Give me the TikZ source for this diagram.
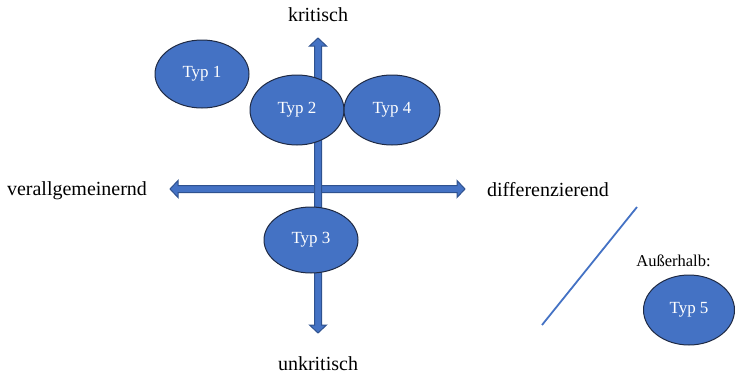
\documentclass[tikz,border=0pt]{standalone}
\usepackage{fontspec}
\setmainfont{Liberation Serif}
\usetikzlibrary{shapes.geometric}
\definecolor{fillblue}{HTML}{4472C4}
\definecolor{edgeblue}{HTML}{2F528F}
\definecolor{darkedge}{HTML}{1F2A44}
\tikzset{
  typ/.style={ellipse, draw=darkedge, line width=1pt, fill=fillblue, text=white,
    minimum width=#1, font=\fontsize{17}{20}\selectfont, inner sep=0pt},
  axisarrow/.style={draw=edgeblue, fill=fillblue, line width=1pt, line join=miter},
  axlabel/.style={font=\fontsize{20}{24}\selectfont, inner sep=0pt}
}
\begin{document}
\begin{tikzpicture}[x=1pt,y=-1pt]
\useasboundingbox (0,0) rectangle (735,378);
% horizontal axis
\draw[axisarrow] (170,189) -- (178,180.5) -- (178,185.5) -- (457,185.5) -- (457,180.5) -- (465,189)
  -- (457,197.5) -- (457,192.5) -- (178,192.5) -- (178,197.5) -- cycle;
% vertical axis
\draw[axisarrow] (318,38) -- (326.5,46) -- (321.5,46) -- (321.5,325) -- (326.5,325) -- (318,333)
  -- (309.5,325) -- (314.5,325) -- (314.5,46) -- (309.5,46) -- cycle;
% ellipses
\node[typ=94pt, minimum height=68pt] (t1) at (202,74) {Typ 1};
\node[typ=94pt, minimum height=70pt] (t2) at (297,110) {Typ 2};
\node[typ=96pt, minimum height=70pt] (t4) at (392,110) {Typ 4};
\node[typ=94pt, minimum height=66pt] (t3) at (311,240) {Typ 3};
\node[typ=91pt, minimum height=70pt] (t5) at (689,310) {Typ 5};
% labels
\node[axlabel] (kr) at (318,15) {kritisch};
\node[axlabel] (uk) at (318,364) {unkritisch};
\node[axlabel] (va) at (77,191) {verallgemeinernd};
\node[axlabel] (di) at (548,190) {differenzierend};
\node[font=\fontsize{16.5}{19}\selectfont, inner sep=0pt] (au) at (673.5,261) {Außerhalb:};
% separator line
\coordinate (l1) at (542,325);
\coordinate (l2) at (637,207);
\draw[fillblue, line width=1.8pt] (l1) -- (l2);
\end{tikzpicture}
\end{document}
